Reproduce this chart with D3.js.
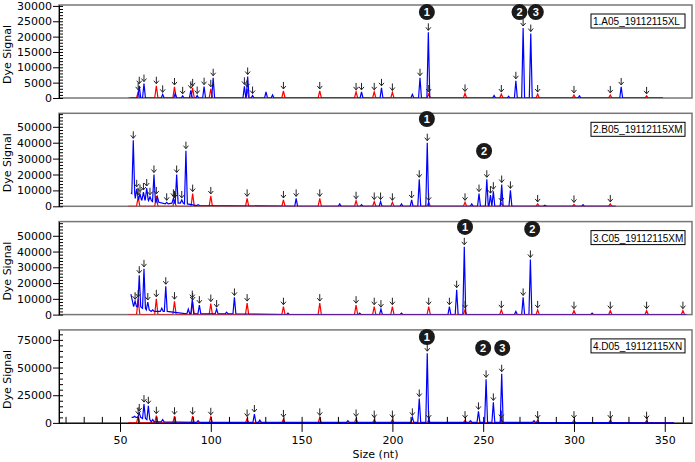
<!DOCTYPE html>
<html>
<head>
<meta charset="utf-8">
<script src="https://cdn.jsdelivr.net/npm/d3@7"></script>
<style>
  body { margin: 0; background: #fff; }
  text { font-family: "DejaVu Sans", sans-serif; }
</style>
</head>
<body>
<svg id="chart"></svg>
<script>
// electropherogram, 4 capillaries, blue sample dye + red size standard

const sampleNames = ["1.A05_19112115XL", "2.B05_19112115XM", "3.C05_19112115XM", "4.D05_19112115XN"];

const xDomain = [16.4, 365];
const xMajorTicks = [50, 100, 150, 200, 250, 300, 350];
const xMinorTicks = [20, 30, 40, 50, 60, 70, 80, 90, 100, 110, 120, 130, 140, 150, 160, 170, 180, 190,
  200, 210, 220, 230, 240, 250, 260, 270, 280, 290, 300, 310, 320, 330, 340, 350, 360];

const yMax = [30300, 58500, 59000, 84000];
const yMajorStep = [5000, 10000, 10000, 25000];
const yMinorStep = [1000, 2000, 2000, 5000];

// red size standard
const sizeStandard = [60, 70, 80, 90, 100, 120, 140, 160, 180, 190, 200, 220, 240, 260, 280, 300, 320, 340, 360];
const redHeights = [
  [2000, 4000, 3600, 3300, 3000, 3000, 2300, 2300, 2000, 2000, 1800, 1300, 1500, 1300, 1300, 1000, 1000, 700, 0],
  [6000, 6500, 4000, 8000, 6500, 5000, 4000, 5000, 3500, 3000, 2500, 2500, 2500, 2000, 1500, 1200, 1500, 0, 0],
  [10000, 10000, 8500, 8000, 7000, 7300, 5000, 7300, 6000, 5000, 5000, 5000, 3000, 3000, 3000, 2500, 2500, 2500, 2500],
  [6000, 6500, 6000, 6000, 5500, 4000, 3500, 5000, 4000, 3000, 3000, 2500, 2500, 3000, 2500, 2500, 2500, 2000, 0]
];

const redStart = 54.5;
const traceEnd = [349, 323, 362, 355];
const blueStart = [[55.5, 0], [56, 8500], [56, 13000], [56.4, 5000]];

// blue peaks: [size, height, baseline, called]
const bluePeaks1 = [
  [60.6, 4000, 0, 1], [63.2, 4700, 0, 1], [73.5, 1200, 0, 1], [80.4, 1500, 0, 0],
  [84.5, 700, 0, 1], [89.0, 2500, 0, 1], [92.5, 800, 0, 1], [96.3, 3700, 0, 1],
  [101.3, 6600, 0, 1], [118.5, 3800, 0, 1], [120.3, 7000, 0, 1], [123, 800, 0, 1],
  [130.4, 2000, 0, 0], [134, 1000, 0, 0], [183, 2000, 0, 1], [194, 3300, 0, 1],
  [211, 1200, 0, 0], [215.2, 6600, 0, 1], [219.8, 21400, 0, 1], [256, 800, 0, 0],
  [264, 600, 0, 0], [268, 5600, 0, 1], [272, 22800, 0, 1], [276.2, 21000, 0, 1],
  [303, 700, 0, 0], [326, 3600, 0, 1]
];
const bluePeaks2 = [
  [57.3, 41500, 8000, 1], [59.2, 11000, 5000, 1], [61.0, 8000, 4000, 1], [62.9, 9000, 4000, 1],
  [64.7, 11500, 4000, 1], [66.5, 6000, 3500, 1], [68.7, 20000, 3000, 1], [70.6, 6000, 2500, 0],
  [75.7, 2500, 1500, 1], [79.4, 5000, 2000, 1], [81.2, 20000, 2000, 1], [84.0, 4000, 2000, 1],
  [86.3, 35000, 1500, 1], [93, 1000, 500, 0], [147, 5000, 0, 1], [171, 1500, 0, 0],
  [183, 1000, 0, 0], [193.5, 3000, 0, 1], [205, 1500, 0, 0], [210.6, 4000, 0, 1],
  [214.8, 17000, 0, 1], [219.2, 40000, 0, 1], [243.7, 1500, 0, 0], [247.7, 8000, 0, 1],
  [252, 17000, 0, 1], [254, 7000, 0, 1], [255.6, 9500, 0, 1], [260.2, 13700, 0, 1],
  [265, 10000, 0, 1], [284, 700, 0, 0], [305, 1000, 0, 0]
];
const bluePeaks3 = [
  [58.3, 8500, 5000, 1], [60.6, 25000, 5000, 1], [63.2, 29000, 4000, 1], [65.3, 8000, 3000, 1],
  [68, 3000, 2000, 0], [73, 4000, 2000, 0], [75.2, 18000, 2000, 1], [87.6, 3500, 500, 0],
  [89.8, 9500, 500, 1], [93.7, 6000, 500, 1], [103.2, 3500, 500, 1], [108.7, 1500, 500, 0],
  [113, 10900, 500, 1], [142.5, 1000, 0, 0], [182, 1000, 0, 0], [193.7, 3500, 0, 1],
  [205, 1000, 0, 0], [231.4, 5000, 0, 1], [235.4, 15800, 0, 1], [239.6, 43000, 0, 1],
  [268, 2000, 0, 0], [272, 10900, 0, 1], [276, 35000, 0, 1], [310, 1000, 0, 0]
];
const bluePeaks4 = [
  [58, 6000, 5000, 0], [60.6, 9000, 5000, 1], [63.2, 17000, 4000, 1], [65.6, 15500, 3000, 1],
  [68, 3000, 1000, 0], [73.5, 3000, 1000, 0], [93, 2000, 500, 0], [124, 8000, 500, 1],
  [127, 2500, 500, 0], [175.5, 2000, 500, 0], [211, 5000, 500, 1], [214.8, 22000, 500, 1],
  [219.2, 63000, 500, 1], [243, 2000, 500, 0], [247.4, 10400, 500, 1], [251.6, 39300, 500, 1],
  [255.6, 18500, 500, 1], [260.2, 44400, 500, 1], [278, 2000, 500, 0]
];
const bluePeaks = [bluePeaks1, bluePeaks2, bluePeaks3, bluePeaks4];

// numbered markers: [size, signal, label]
const markers = [
  [[219, 28000, "1"], [270, 28000, "2"], [279, 28000, "3"]],
  [[219, 54900, "1"], [250.5, 34800, "2"]],
  [[240, 55600, "1"], [277, 54300, "2"]],
  [[219, 77600, "1"], [250, 67700, "2"], [260.5, 67700, "3"]]
];

const width = 695;
const height = 462;
const left = 59, right = 692;
const panelTop = 5, panelStep = 108.3, panelH = 93;

const svg = d3.select("#chart").attr("width", width).attr("height", height);

const x = d3.scaleLinear().domain(xDomain).range([left, right]);

function peakPoints(start, peaks, end, w) {
  const pts = [start];
  peaks.forEach(p => {
    pts.push([p[0] - w, p[2]], [p[0], p[1]], [p[0] + w, p[2]]);
  });
  pts.push([end, 0]);
  return pts;
}

function arrow(g, px, py) {
  g.append("path")
    .attr("d", `M${px},${py - 9}L${px},${py - 2}M${px - 2.5},${py - 5}L${px},${py - 2}L${px + 2.5},${py - 5}`)
    .attr("fill", "none")
    .attr("stroke", "#222")
    .attr("stroke-width", 1);
}

for (let i = 0; i < 4; i++) {
  const top = panelTop + i * panelStep;
  const bottom = top + panelH;
  const y = d3.scaleLinear().domain([0, yMax[i]]).range([bottom, top]);
  const g = svg.append("g");

  g.append("rect")
    .attr("x", left).attr("y", top)
    .attr("width", right - left).attr("height", panelH)
    .attr("fill", "#fff")
    .attr("stroke", "#777")
    .attr("stroke-width", 1.5);

  g.append("clipPath").attr("id", "clip" + i)
    .append("rect")
    .attr("x", left).attr("y", top)
    .attr("width", right - left).attr("height", panelH);

  const line = d3.line().x(d => x(d[0])).y(d => y(d[1]));

  const redPeaks = sizeStandard
    .map((s, k) => [s, redHeights[i][k], 0, 1])
    .filter(p => p[1] > 0 && p[0] < traceEnd[i]);

  const traces = g.append("g").attr("clip-path", `url(#clip${i})`);

  traces.append("path")
    .attr("d", line(peakPoints([redStart, 0], redPeaks, traceEnd[i], 0.9)))
    .attr("fill", "none")
    .attr("stroke", "#ff0000")
    .attr("stroke-width", 1.2);

  traces.append("path")
    .attr("d", line(peakPoints(blueStart[i], bluePeaks[i], traceEnd[i], 0.8)))
    .attr("fill", "none")
    .attr("stroke", "#0000ff")
    .attr("stroke-width", 1.2);

  redPeaks.forEach(p => arrow(g, x(p[0]), y(p[1])));
  bluePeaks[i].filter(p => p[3]).forEach(p => arrow(g, x(p[0]), y(p[1])));

  // numbered peak markers
  markers[i].forEach(m => {
    g.append("circle")
      .attr("cx", x(m[0])).attr("cy", y(m[1]))
      .attr("r", 8)
      .attr("fill", "#1a1a1a");
    g.append("text")
      .attr("x", x(m[0])).attr("y", y(m[1]) + 4)
      .attr("text-anchor", "middle")
      .attr("fill", "#fff")
      .style("font-family", "Liberation Sans")
      .style("font-weight", "bold")
      .style("font-size", "11px")
      .text(m[2]);
  });

  // sample name box
  g.append("rect")
    .attr("x", right - 101).attr("y", top + 9)
    .attr("width", 94).attr("height", 14)
    .attr("fill", "#fff")
    .attr("stroke", "#000")
    .attr("stroke-width", 1);
  g.append("text")
    .attr("x", right - 99).attr("y", top + 20)
    .style("font-family", "Liberation Sans")
    .style("font-size", "10px")
    .text(sampleNames[i]);

  // y axis
  const majors = d3.range(0, yMax[i] + 1, yMajorStep[i]);
  const minors = d3.range(0, yMax[i] + 1, yMinorStep[i]);

  const ya = g.append("g")
    .attr("transform", `translate(${left},0)`)
    .call(d3.axisLeft(y).tickValues(majors).tickFormat(d3.format("d"))
      .tickSize(6).tickSizeOuter(0).tickPadding(1));
  ya.selectAll("text").style("font-size", "11px").attr("fill", "#000");

  const yb = g.append("g")
    .attr("transform", `translate(${left},0)`)
    .call(d3.axisRight(y).tickValues(minors).tickSize(4).tickFormat(""));
  yb.select(".domain").remove();

  g.append("text")
    .attr("transform", `translate(11,${(top + bottom) / 2 + 3}) rotate(-90)`)
    .attr("text-anchor", "middle")
    .style("font-size", "11px")
    .text("Dye Signal");

  // x axis on the last panel only
  if (i === 3) {
    const xa = g.append("g")
      .attr("transform", `translate(0,${bottom})`)
      .call(d3.axisBottom(x).tickValues(xMajorTicks).tickSize(9).tickSizeOuter(0).tickPadding(4));
    xa.selectAll("text").style("font-size", "11px").attr("fill", "#000");

    const xb = g.append("g")
      .attr("transform", `translate(0,${bottom})`)
      .call(d3.axisTop(x).tickValues(xMinorTicks).tickSize(6).tickFormat(""));
    xb.select(".domain").remove();

    g.append("text")
      .attr("x", (left + right) / 2)
      .attr("y", bottom + 35)
      .attr("text-anchor", "middle")
      .style("font-size", "11px")
      .text("Size (nt)");
  }
}
</script>
</body>
</html>
